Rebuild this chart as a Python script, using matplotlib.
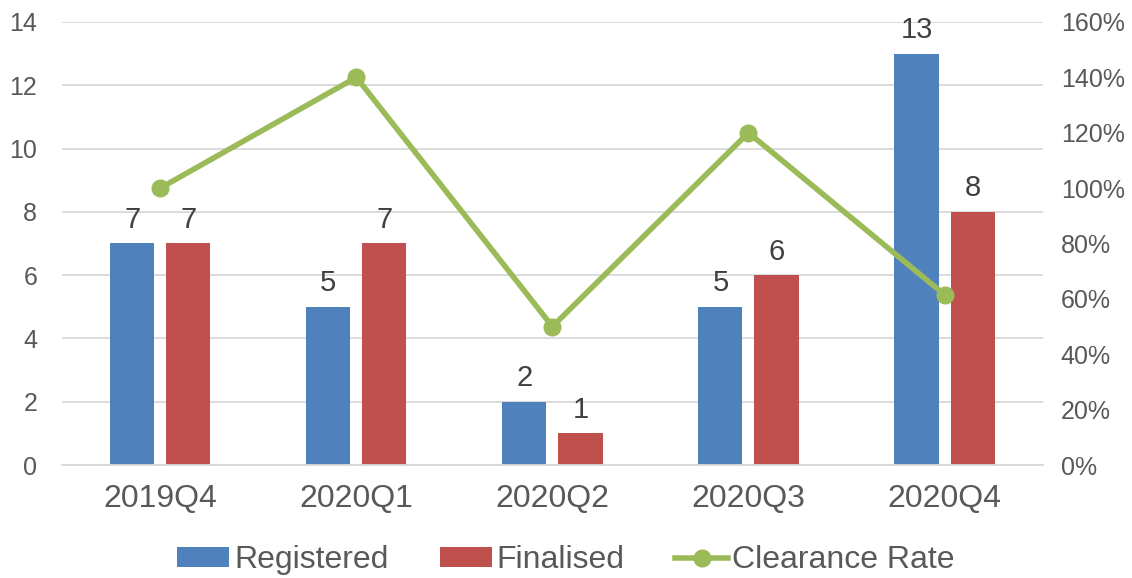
import matplotlib.pyplot as plt
import numpy as np
from matplotlib.ticker import FuncFormatter

plt.rcParams['font.family'] = ['Liberation Sans', 'DejaVu Sans']

quarters = ['2019Q4', '2020Q1', '2020Q2', '2020Q3', '2020Q4']
registered = [7, 5, 2, 5, 13]
finalised = [7, 7, 1, 6, 8]
clearance = [1.00, 1.40, 0.50, 1.20, 0.615]

blue = '#4F81BD'
red = '#C0504D'
green = '#9BBB59'
grey_txt = '#595959'

fig = plt.figure(figsize=(11.32, 5.78), dpi=100)
ax = fig.add_axes([0.055, 0.1955, 0.866, 0.7665])
ax2 = ax.twinx()

x = np.arange(len(quarters))
w = 0.225
off = 0.143
b1 = ax.bar(x - off, registered, w, color=blue, label='Registered', zorder=2)
b2 = ax.bar(x + off, finalised, w, color=red, label='Finalised', zorder=2)

for xi, v in zip(x, registered):
    ax.text(xi - off, v + 0.3, str(v), ha='center', va='bottom', fontsize=21, color='#404040')
for xi, v in zip(x, finalised):
    ax.text(xi + off, v + 0.3, str(v), ha='center', va='bottom', fontsize=21, color='#404040')

ax.set_xlim(-0.5, 4.5)
ax.set_ylim(0, 14)
ax.set_yticks(range(0, 15, 2))
ax.grid(axis='y', color='#D9D9D9', linewidth=1.3, zorder=0)
ax.set_axisbelow(True)
for s in ['top', 'right', 'left']:
    ax.spines[s].set_visible(False)
    ax2.spines[s].set_visible(False)
ax.spines['bottom'].set_color('#D9D9D9')
ax.spines['bottom'].set_linewidth(1.3)
ax2.spines['bottom'].set_visible(False)
ax.set_xticks(x)
ax.set_xticklabels(quarters, fontsize=23, color=grey_txt)
ax.tick_params(axis='x', length=0, pad=14)
ax.tick_params(axis='y', length=0, labelsize=18, labelcolor=grey_txt, pad=18)

ln, = ax2.plot(x, clearance, color=green, linewidth=4, marker='o', markersize=12,
               label='Clearance Rate', zorder=3)
ax2.set_ylim(0, 1.6)
ax2.set_yticks(np.arange(0, 1.61, 0.2))
ax2.yaxis.set_major_formatter(FuncFormatter(lambda v, p: f'{v*100:.0f}%'))
ax2.tick_params(axis='y', length=0, labelsize=18, labelcolor=grey_txt, pad=13)

fig.legend(handles=[b1, b2, ln], loc='lower center', bbox_to_anchor=(0.5, -0.045),
           ncol=3, frameon=False, fontsize=23, labelcolor=grey_txt,
           handlelength=1.63, handleheight=0.55, handletextpad=0.15, columnspacing=1.6)

fig.savefig('out.png', dpi=100)
